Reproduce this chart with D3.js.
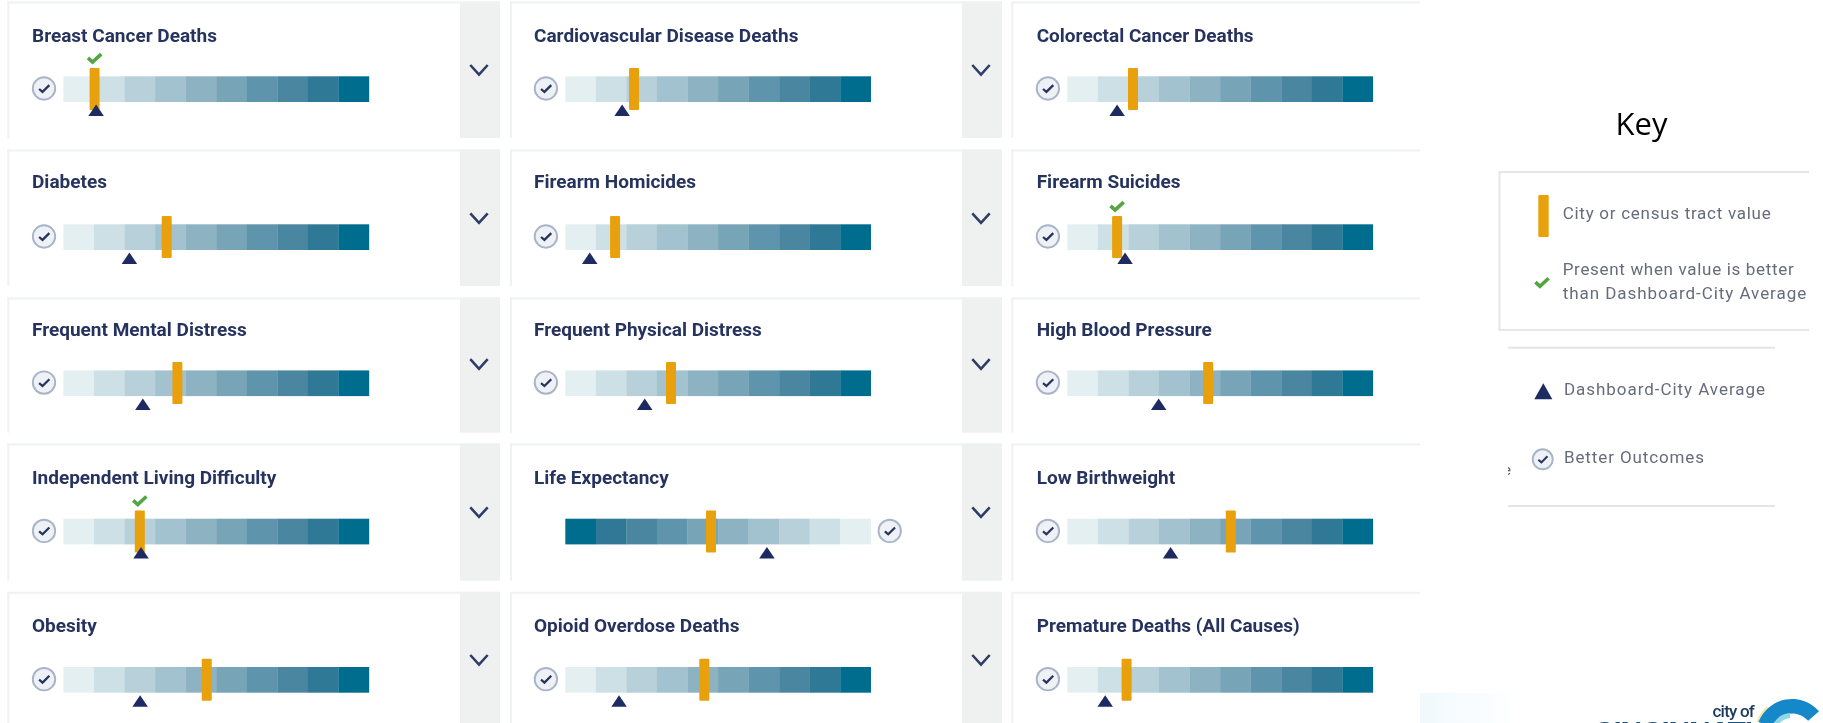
<!DOCTYPE html>
<html><head><meta charset="utf-8">
<script src="https://cdn.jsdelivr.net/npm/d3@7"></script>
<style>
html,body{margin:0;padding:0;background:#fff;overflow:hidden}
svg{display:block;filter:blur(0.6px)}
</style></head><body>
<script>
// ---- data (position on the 0-10 decile band) ----
const categories = ["Breast Cancer Deaths","Cardiovascular Disease Deaths","Colorectal Cancer Deaths",
  "Diabetes","Firearm Homicides","Firearm Suicides",
  "Frequent Mental Distress","Frequent Physical Distress","High Blood Pressure",
  "Independent Living Difficulty","Life Expectancy","Low Birthweight",
  "Obesity","Opioid Overdose Deaths","Premature Deaths (All Causes)"];
const cityValues = [1.02,2.25,2.15, 3.38,1.63,1.63, 3.73,3.46,4.61, 2.50,4.77,5.35, 4.69,4.55,1.94];
const dashboardAverage = [1.07,1.86,1.63, 2.16,0.80,1.89, 2.60,2.60,2.99, 2.54,6.60,3.38, 2.51,1.76,1.24];
const betterThanAverage = ["Breast Cancer Deaths","Firearm Suicides","Independent Living Difficulty"];
const reversedBands = ["Life Expectancy"];
const bandColors = ["#e4eff2","#cde0e6","#b7d0da","#a3c2cf","#8db3c3","#77a4b7","#5f95ac","#4a86a0","#2f7896","#006d8f"];
const legendTitle = "Key";

// ---- layout ----
const W = 1823, H = 723;
const colBar = [[63.4,369],[565.3,870.8],[1067.3,1372.9]];
const colCard = [8.3,511,1012.3];
const colRight = [460,962,1420];
const colTitle = [32,534,1036.7];
const rowCardTop = [3,151,299,445,593.3];
const rowCardBottom = [138,286,432.7,580.7,723];
const rowBarTop = [76.3,224.3,370.4,518.7,667];
const rowTitle = [41.7,188.3,336,484.3,632.3];
const rowChevron = [70,218.3,364.2,512.3,660];
const barH = 25.7;
const navy = "#1d2b62", orange = "#e8a00d", green = "#55a545", borderC = "#f0f1f1", panel = "#eff1f1";

const svg = d3.select("body").append("svg").attr("width",W).attr("height",H).attr("viewBox",[0,0,W,H]);
const defs = svg.append("defs");

function circleCheck(g,cx,cy,r){
  g.append("circle").attr("cx",cx).attr("cy",cy).attr("r",r).attr("fill","#eef1f5").attr("stroke","#a9b4c8").attr("stroke-width",1.9);
  const s=r/11.5;
  g.append("path").attr("d",`M${cx-5*s},${cy+0.5*s}L${cx-1.5*s},${cy+3.5*s}L${cx+5.5*s},${cy-3.5*s}`)
    .attr("fill","none").attr("stroke","#27345f").attr("stroke-width",2.3*s);
}
function tickMark(g,cx,cy,s){
  g.append("path").attr("d",`M${cx-6.6*s},${cy-0.6*s}L${cx-2*s},${cy+3.6*s}L${cx+6.6*s},${cy-4.4*s}`)
    .attr("fill","none").attr("stroke",green).attr("stroke-width",3.6*s);
}
function triangle(g,cx,top,w,h){
  g.append("path").attr("d",d3.line()([[cx,top],[cx+w/2,top+h],[cx-w/2,top+h]])+"Z").attr("fill",navy);
}

categories.forEach((name,i)=>{
  const col=i%3,row=Math.floor(i/3);
  const g=svg.append("g").attr("class","card");
  const x=d3.scaleLinear().domain([0,10]).range(colBar[col]);
  const y0=rowBarTop[row];
  const reversed=reversedBands.includes(name);

  // card frame: top and left hairlines only, bottom is open
  g.append("rect").attr("x",colCard[col]-1).attr("y",rowCardTop[row]-1.5).attr("width",colRight[col]-colCard[col]+1+(col<2?40:0)).attr("height",2).attr("fill",borderC);
  g.append("rect").attr("x",colCard[col]-1).attr("y",rowCardTop[row]-1.5).attr("width",2).attr("height",rowCardBottom[row]-rowCardTop[row]+1.5).attr("fill",borderC);
  if(col<2){
    g.append("rect").attr("x",colRight[col]).attr("y",rowCardTop[row]-1.5).attr("width",40).attr("height",rowCardBottom[row]-rowCardTop[row]+1.5).attr("fill",panel);
    const cx=colRight[col]+19, cy=rowChevron[row];
    g.append("path").attr("d",`M${cx-8.7},${cy-5}L${cx},${cy+4.6}L${cx+8.7},${cy-5}`).attr("fill","none").attr("stroke","#2f3d68").attr("stroke-width",2.6);
  }

  g.append("text").attr("x",colTitle[col]).attr("y",rowTitle[row]).text(name)
    .attr("font-family","Roboto").attr("font-weight",700).attr("font-size",19).attr("fill","#27335f");

  // decile band
  g.selectAll("rect.cell").data(d3.range(10)).join("rect").attr("class","cell")
    .attr("x",d=>x(d)).attr("y",y0).attr("width",d=>x(d+1)-x(d)+0.2).attr("height",barH)
    .attr("fill",d=>bandColors[reversed?9-d:d]);

  // better-outcomes badge sits at the light end
  circleCheck(g, reversed? x(10)+18.9 : x(0)-19.4, y0+12.2, 11.2);

  // city value marker
  const vx=x(cityValues[i]);
  g.append("rect").attr("x",vx-5).attr("y",y0-8.3).attr("width",10).attr("height",42).attr("rx",1).attr("fill",orange);
  if(betterThanAverage.includes(name)) tickMark(g,vx,y0-17.8,1);
  triangle(g,x(dashboardAverage[i]),y0+28.2,15.5,11.5);
});

// ---- legend ----
const lg=svg.append("g").attr("class","legend");
lg.append("text").attr("x",1641.5).attr("y",135).attr("text-anchor","middle").text(legendTitle)
  .attr("font-family","Open Sans").attr("font-size",31).attr("fill","#000");
lg.append("path").attr("d","M1809,172H1499.5V330H1809").attr("fill","none").attr("stroke","#e6e6e6").attr("stroke-width",2);
[347.7,506].forEach(y=>lg.append("rect").attr("x",1508).attr("y",y-1).attr("width",267).attr("height",2).attr("fill","#e4e4e4"));
lg.append("rect").attr("x",1538.3).attr("y",195).attr("width",10.4).attr("height",42).attr("rx",1).attr("fill",orange);
tickMark(lg,1542,282.7,1);
triangle(lg,1543.3,383.3,18,16);
circleCheck(lg,1542.7,459.3,10);
const legText=[["City or census tract value",1562.7,219.3,208],["Present when value is better",1562.7,275,231],
  ["than Dashboard-City Average",1562.7,299.3,243.5],["Dashboard-City Average",1564,395,201],["Better Outcomes",1564,462.7,140]];
lg.selectAll("text.item").data(legText).join("text").attr("class","item")
  .attr("x",d=>d[1]).attr("y",d=>d[2]).text(d=>d[0]).attr("textLength",d=>d[3]).attr("lengthAdjust","spacing")
  .attr("font-family","Roboto").attr("font-size",17).attr("fill","#666c7b");

// stray cropped glyph left of the Better Outcomes row
defs.append("clipPath").attr("id","stray").append("rect").attr("x",1508).attr("y",460).attr("width",4).attr("height",20);
lg.append("text").attr("clip-path","url(#stray)").attr("x",1503).attr("y",475).text("e").attr("font-family","Roboto").attr("font-size",15).attr("fill","#50607a");

// ---- logo, cropped by the picture's bottom edge ----
const grad=defs.append("linearGradient").attr("id","lgFade").attr("x1",0).attr("x2",1);
grad.append("stop").attr("offset",0).attr("stop-color","#f1f9fd");
grad.append("stop").attr("offset",1).attr("stop-color","#fdfeff");
svg.append("rect").attr("x",1420).attr("y",693).attr("width",90).attr("height",30).attr("fill","url(#lgFade)");

const arcGrad=defs.append("linearGradient").attr("id","arcG").attr("gradientUnits","userSpaceOnUse")
  .attr("x1",1762).attr("y1",722).attr("x2",1812).attr("y2",705);
arcGrad.append("stop").attr("offset",0).attr("stop-color","#1488c8");
arcGrad.append("stop").attr("offset",0.5).attr("stop-color","#0c5c9a");
arcGrad.append("stop").attr("offset",1).attr("stop-color","#0b3a68");
const lc=svg.append("g").attr("transform","translate(1792,735)");
lc.append("path").attr("d",d3.arc().innerRadius(35.5).outerRadius(38)({startAngle:-1.2,endAngle:-0.72})).attr("fill","#f3e9a0");
lc.append("path").attr("d",d3.arc().innerRadius(21.5).outerRadius(36)({startAngle:-1.2,endAngle:0.85})).attr("fill","url(#arcG)");
lc.append("path").attr("d",d3.arc().innerRadius(17).outerRadius(22)({startAngle:-1.0,endAngle:-0.1})).attr("fill","#8fd8ea");
svg.append("text").attr("x",1754).attr("y",717).attr("text-anchor","end").text("city of")
  .attr("font-family","Roboto").attr("font-weight",500).attr("font-size",17).attr("letter-spacing",-0.8).attr("fill","#1b3a5c");
svg.append("text").attr("x",1593).attr("y",742).text("CINCINNATI").attr("textLength",160)
  .attr("font-family","Liberation Sans").attr("font-weight",700).attr("font-size",30).attr("fill","#1b4f80");
</script>
</body></html>
